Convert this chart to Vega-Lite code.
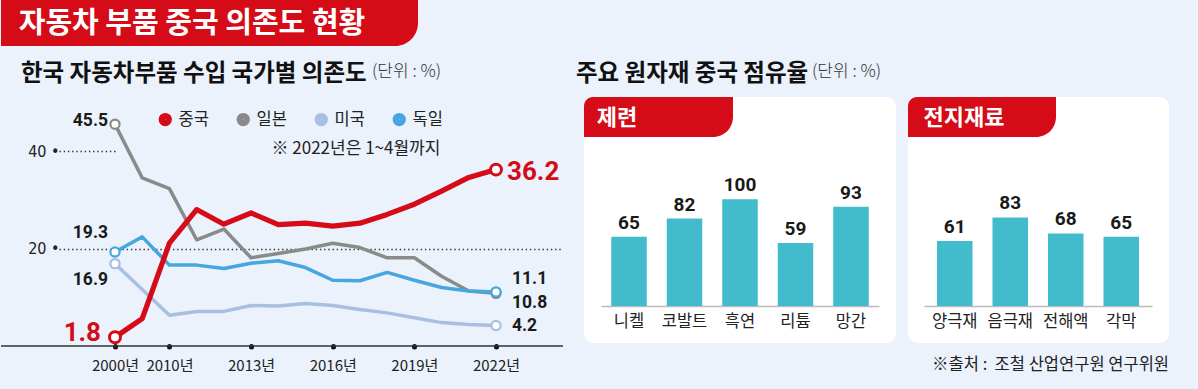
{
"$schema": "https://vega.github.io/schema/vega-lite/v6.json",
"background": "#EBF2FB",
"padding": {"left": 0, "top": 0, "right": 30, "bottom": 16},
"config": {"view": {"stroke": null}, "font": "Noto Sans CJK KR", "title": {"font": "Noto Sans CJK KR"}},
"bounds": "flush",
"spacing": 51,
"vconcat": [
{
 "width": 417, "height": 46,
 "title": {"text": "(단위 : %)", "orient": "bottom", "anchor": "start", "frame": "group", "dx": 371, "offset": 26, "baseline": "middle", "fontSize": 17, "fontWeight": 300, "color": "#333333"},
 "data": {"values": [{"t": "자동차 부품 중국 의존도 현황"}]},
 "layer": [
  {"mark": {"type": "rect", "color": "#D50B18", "cornerRadiusBottomRight": 40}, "encoding": {}},
  {"mark": {"type": "text", "color": "white", "fontSize": 29, "fontWeight": "bold", "dx": -17.5, "dy": 1}, "encoding": {"text": {"field": "t"}}}
 ]
},
{
 "bounds": "flush",
 "spacing": 21,
 "hconcat": [
 {
  "width": 562, "height": 249,
  "title": {"text": "한국 자동차부품 수입 국가별 의존도", "anchor": "start", "frame": "group", "dx": 20, "offset": 0, "baseline": "middle", "fontSize": 23.5, "fontWeight": "bold", "color": "#111111"},
  "layer": [
   {"data": {"values": [{}]}, "mark": {"type": "rule", "color": "#333333", "strokeWidth": 1.5}, "encoding": {"y": {"datum": 0, "type": "quantitative"}}},
   {
    "data": {"values": [
     {"country": "미국", "year": "2000", "value": 16.9}, {"country": "미국", "year": "2005", "value": 11.6}, {"country": "미국", "year": "2010", "value": 6.3}, {"country": "미국", "year": "2011", "value": 7.1}, {"country": "미국", "year": "2012", "value": 7.1}, {"country": "미국", "year": "2013", "value": 8.3}, {"country": "미국", "year": "2014", "value": 8.2}, {"country": "미국", "year": "2015", "value": 8.7}, {"country": "미국", "year": "2016", "value": 8.3}, {"country": "미국", "year": "2017", "value": 7.5}, {"country": "미국", "year": "2018", "value": 6.8}, {"country": "미국", "year": "2019", "value": 5.8}, {"country": "미국", "year": "2020", "value": 4.8}, {"country": "미국", "year": "2021", "value": 4.4}, {"country": "미국", "year": "2022", "value": 4.2},
     {"country": "일본", "year": "2000", "value": 45.5}, {"country": "일본", "year": "2005", "value": 34.5}, {"country": "일본", "year": "2010", "value": 32.3}, {"country": "일본", "year": "2011", "value": 21.8}, {"country": "일본", "year": "2012", "value": 24.0}, {"country": "일본", "year": "2013", "value": 18.1}, {"country": "일본", "year": "2014", "value": 19.0}, {"country": "일본", "year": "2015", "value": 19.9}, {"country": "일본", "year": "2016", "value": 21.1}, {"country": "일본", "year": "2017", "value": 20.2}, {"country": "일본", "year": "2018", "value": 18.1}, {"country": "일본", "year": "2019", "value": 18.1}, {"country": "일본", "year": "2020", "value": 14.3}, {"country": "일본", "year": "2021", "value": 11.3}, {"country": "일본", "year": "2022", "value": 10.8},
     {"country": "독일", "year": "2000", "value": 19.3}, {"country": "독일", "year": "2005", "value": 22.4}, {"country": "독일", "year": "2010", "value": 16.6}, {"country": "독일", "year": "2011", "value": 16.6}, {"country": "독일", "year": "2012", "value": 15.9}, {"country": "독일", "year": "2013", "value": 17.0}, {"country": "독일", "year": "2014", "value": 17.5}, {"country": "독일", "year": "2015", "value": 16.1}, {"country": "독일", "year": "2016", "value": 13.5}, {"country": "독일", "year": "2017", "value": 13.4}, {"country": "독일", "year": "2018", "value": 15.1}, {"country": "독일", "year": "2019", "value": 13.5}, {"country": "독일", "year": "2020", "value": 12.0}, {"country": "독일", "year": "2021", "value": 11.3}, {"country": "독일", "year": "2022", "value": 11.1},
     {"country": "중국", "year": "2000", "value": 1.8}, {"country": "중국", "year": "2005", "value": 5.6}, {"country": "중국", "year": "2010", "value": 21.1}, {"country": "중국", "year": "2011", "value": 28.0}, {"country": "중국", "year": "2012", "value": 25.0}, {"country": "중국", "year": "2013", "value": 27.3}, {"country": "중국", "year": "2014", "value": 24.9}, {"country": "중국", "year": "2015", "value": 25.2}, {"country": "중국", "year": "2016", "value": 24.6}, {"country": "중국", "year": "2017", "value": 25.2}, {"country": "중국", "year": "2018", "value": 27.0}, {"country": "중국", "year": "2019", "value": 29.1}, {"country": "중국", "year": "2020", "value": 31.8}, {"country": "중국", "year": "2021", "value": 34.6}, {"country": "중국", "year": "2022", "value": 36.2}
    ]},
    "encoding": {
     "x": {"field": "year", "type": "ordinal",
      "scale": {"type": "point", "domain": ["2000","2005","2010","2011","2012","2013","2014","2015","2016","2017","2018","2019","2020","2021","2022"], "range": [114, 495], "padding": 0},
      "axis": {"values": ["2000","2010","2013","2016","2019","2022"], "labelExpr": "datum.label + '년'", "title": null, "grid": false, "domain": false, "tickColor": "#111111", "tickWidth": 5, "tickSize": 0.5, "tickCap": "round", "labelPadding": 12, "labelAngle": 0, "labelFont": "Noto Sans CJK KR", "labelFontSize": 15, "labelColor": "#222222"}},
     "y": {"field": "value", "type": "quantitative",
      "scale": {"domain": [0, 51.1], "nice": false},
      "axis": {"orient": "left", "offset": -58, "values": [20, 40], "title": null, "domain": false, "grid": false,
       "tickColor": "#333333", "tickWidth": 1.4, "tickDash": [1.4, 2.8],
       "tickSize": {"condition": {"test": "datum.value === 40", "value": -56}, "value": -504},
       "labelPadding": {"condition": {"test": "datum.value === 40", "value": 56}, "value": 504},
       "labelExpr": "datum.label + '  •'", "labelFont": "DejaVu Sans Condensed, sans-serif", "labelFontSize": 16, "labelColor": "#222222"}},
     "color": {"field": "country", "type": "nominal",
      "scale": {"domain": ["중국", "일본", "미국", "독일"], "range": ["#D50B18", "#8A8A8A", "#A8BFE3", "#45A6E0"]},
      "legend": {"orient": "none", "legendX": 156, "legendY": 111, "direction": "horizontal", "title": null, "symbolType": "circle", "symbolSize": 40, "symbolStrokeWidth": 7, "symbolOpacity": 1, "labelFont": "Noto Sans CJK KR", "labelFontSize": 16.5, "labelColor": "#222222", "labelOffset": 5, "columnPadding": 17, "padding": 0}}
    },
    "layer": [
     {"transform": [{"filter": "datum.country === '미국'"}], "mark": {"type": "line", "strokeWidth": 3.5, "strokeJoin": "round", "strokeCap": "round"}},
     {"transform": [{"filter": "datum.country === '일본'"}], "mark": {"type": "line", "strokeWidth": 3.5, "strokeJoin": "round", "strokeCap": "round"}},
     {"transform": [{"filter": "datum.country === '독일'"}], "mark": {"type": "line", "strokeWidth": 3.5, "strokeJoin": "round", "strokeCap": "round"}},
     {"transform": [{"filter": "datum.country === '중국'"}], "mark": {"type": "line", "strokeWidth": 5.2, "strokeJoin": "round", "strokeCap": "round"}},
     {"transform": [{"filter": "(datum.year === '2000' || datum.year === '2022') && datum.country !== '중국'"}], "mark": {"type": "point", "filled": false, "fill": "white", "fillOpacity": 1, "size": 85, "strokeWidth": 2.2, "opacity": 1}},
     {"transform": [{"filter": "(datum.year === '2000' || datum.year === '2022') && datum.country === '중국'"}], "mark": {"type": "point", "filled": false, "fill": "white", "fillOpacity": 1, "size": 120, "strokeWidth": 3, "opacity": 1}},
     {"transform": [{"filter": "datum.country === '일본' && datum.year === '2000'"}], "mark": {"type": "text", "align": "right", "baseline": "middle", "dx": -7, "dy": -3, "fontSize": 17.5, "fontWeight": "bold", "font": "Roboto"}, "encoding": {"text": {"field": "value", "type": "quantitative", "format": ".1f"}, "color": {"value": "#1A1A1A"}}},
     {"transform": [{"filter": "datum.country === '독일' && datum.year === '2000'"}], "mark": {"type": "text", "align": "right", "baseline": "middle", "dx": -7, "dy": -19, "fontSize": 17.5, "fontWeight": "bold", "font": "Roboto"}, "encoding": {"text": {"field": "value", "type": "quantitative", "format": ".1f"}, "color": {"value": "#1A1A1A"}}},
     {"transform": [{"filter": "datum.country === '미국' && datum.year === '2000'"}], "mark": {"type": "text", "align": "right", "baseline": "middle", "dx": -7, "dy": 16, "fontSize": 17.5, "fontWeight": "bold", "font": "Roboto"}, "encoding": {"text": {"field": "value", "type": "quantitative", "format": ".1f"}, "color": {"value": "#1A1A1A"}}},
     {"transform": [{"filter": "datum.country === '중국' && datum.year === '2000'"}], "mark": {"type": "text", "align": "right", "baseline": "middle", "dx": -14, "dy": -4, "fontSize": 26, "fontWeight": "bold", "font": "Roboto"}, "encoding": {"text": {"field": "value", "type": "quantitative", "format": ".1f"}, "color": {"value": "#D50B18"}}},
     {"transform": [{"filter": "datum.country === '중국' && datum.year === '2022'"}], "mark": {"type": "text", "align": "left", "baseline": "middle", "dx": 11, "dy": 2, "fontSize": 26, "fontWeight": "bold", "font": "Roboto"}, "encoding": {"text": {"field": "value", "type": "quantitative", "format": ".1f"}, "color": {"value": "#D50B18"}}},
     {"transform": [{"filter": "datum.country === '독일' && datum.year === '2022'"}], "mark": {"type": "text", "align": "left", "baseline": "middle", "dx": 16, "dy": -13, "fontSize": 17.5, "fontWeight": "bold", "font": "Roboto"}, "encoding": {"text": {"field": "value", "type": "quantitative", "format": ".1f"}, "color": {"value": "#1A1A1A"}}},
     {"transform": [{"filter": "datum.country === '일본' && datum.year === '2022'"}], "mark": {"type": "text", "align": "left", "baseline": "middle", "dx": 16, "dy": 10, "fontSize": 17.5, "fontWeight": "bold", "font": "Roboto"}, "encoding": {"text": {"field": "value", "type": "quantitative", "format": ".1f"}, "color": {"value": "#1A1A1A"}}},
     {"transform": [{"filter": "datum.country === '미국' && datum.year === '2022'"}], "mark": {"type": "text", "align": "left", "baseline": "middle", "dx": 16, "dy": 0, "fontSize": 17.5, "fontWeight": "bold", "font": "Roboto"}, "encoding": {"text": {"field": "value", "type": "quantitative", "format": ".1f"}, "color": {"value": "#1A1A1A"}}}
    ]
   },
   {"data": {"values": [{"note": "※ 2022년은 1~4월까지"}]}, "mark": {"type": "text", "align": "center", "baseline": "middle", "dx": -4, "fontSize": 17, "font": "Noto Sans CJK KR", "color": "#222222"}, "encoding": {"x": {"datum": "2017", "type": "ordinal"}, "y": {"datum": 40.5, "type": "quantitative"}, "text": {"field": "note"}}}
  ]
 },
 {
  "bounds": "flush",
  "spacing": 324,
  "hconcat": [
   {
    "bounds": "flush",
    "spacing": 0,
    "vconcat": [
     {"bounds": "flush", "vconcat": [
     {
      "width": 312, "height": 246,
      "view": {"fill": "white", "cornerRadius": 10, "stroke": null},
      "title": {"text": "(단위 : %)", "anchor": "start", "frame": "group", "dx": 228, "offset": 8, "baseline": "middle", "fontSize": 17, "fontWeight": 300, "color": "#333333"},
      "data": {"values": [{"item": "니켈", "value": 65}, {"item": "코발트", "value": 82}, {"item": "흑연", "value": 100}, {"item": "리튬", "value": 59}, {"item": "망간", "value": 93}]},
      "encoding": {
       "x": {"field": "item", "type": "nominal", "sort": null, "scale": {"type": "band", "range": [17, 295], "paddingInner": 0.36, "paddingOuter": 0.185},
        "axis": {"orient": "bottom", "offset": -37, "title": null, "ticks": false, "domainColor": "#BBBBBB", "domainWidth": 1.5, "labelAngle": 0, "labelPadding": 7, "labelFontSize": 16.5, "labelFont": "Noto Sans CJK KR", "labelColor": "#222222"}},
       "y": {"field": "value", "type": "quantitative", "scale": {"domain": [-34.7, 195.9], "nice": false, "zero": false}, "axis": null}
      },
      "layer": [
       {"mark": {"type": "bar", "color": "#42BBCC"}, "encoding": {"y2": {"datum": 0}}},
       {"mark": {"type": "text", "dy": -8, "baseline": "alphabetic", "align": "center", "fontSize": 19, "fontWeight": "bold", "font": "Roboto", "color": "#1A1A1A"}, "encoding": {"text": {"field": "value", "type": "quantitative"}}}
      ]
     }
     ]},
     {
      "width": 149, "height": 40,
      "title": {"text": "주요 원자재 중국 점유율", "anchor": "start", "frame": "group", "dx": -8, "offset": 0, "baseline": "middle", "fontSize": 23.5, "fontWeight": "bold", "color": "#111111"},
      "data": {"values": [{"label": "제련"}]},
      "layer": [
       {"mark": {"type": "rect", "color": "#D50B18", "cornerRadiusTopLeft": 9, "cornerRadiusBottomRight": 38}, "encoding": {}},
       {"mark": {"type": "text", "color": "white", "fontSize": 22, "fontWeight": "bold", "dx": -41.5, "dy": 1}, "encoding": {"text": {"field": "label"}}}
      ]
     }
    ]
   },
   {
    "bounds": "flush",
    "spacing": 0,
    "vconcat": [
     {"bounds": "flush", "vconcat": [
     {
      "width": 261, "height": 246,
      "view": {"fill": "white", "cornerRadius": 10, "stroke": null},
      "title": {"text": "※출처 :\u00a0 조철 산업연구원 연구위원", "orient": "bottom", "anchor": "end", "frame": "group", "offset": 22, "baseline": "middle", "fontSize": 16.5, "fontWeight": "normal", "color": "#222222"},
      "data": {"values": [{"item": "양극재", "value": 61}, {"item": "음극재", "value": 83}, {"item": "전해액", "value": 68}, {"item": "각막", "value": 65}]},
      "encoding": {
       "x": {"field": "item", "type": "nominal", "sort": null, "scale": {"type": "band", "range": [16, 244], "paddingInner": 0.36, "paddingOuter": 0.234},
        "axis": {"orient": "bottom", "offset": -37, "title": null, "ticks": false, "domainColor": "#BBBBBB", "domainWidth": 1.5, "labelAngle": 0, "labelPadding": 7, "labelFontSize": 16.5, "labelFont": "Noto Sans CJK KR", "labelColor": "#222222"}},
       "y": {"field": "value", "type": "quantitative", "scale": {"domain": [-34.7, 195.9], "nice": false, "zero": false}, "axis": null}
      },
      "layer": [
       {"mark": {"type": "bar", "color": "#42BBCC"}, "encoding": {"y2": {"datum": 0}}},
       {"mark": {"type": "text", "dy": -8, "baseline": "alphabetic", "align": "center", "fontSize": 19, "fontWeight": "bold", "font": "Roboto", "color": "#1A1A1A"}, "encoding": {"text": {"field": "value", "type": "quantitative"}}}
      ]
     }
     ]},
     {
      "width": 148, "height": 40,
      "data": {"values": [{"label": "전지재료"}]},
      "layer": [
       {"mark": {"type": "rect", "color": "#D50B18", "cornerRadiusTopLeft": 9, "cornerRadiusBottomRight": 38}, "encoding": {}},
       {"mark": {"type": "text", "color": "white", "fontSize": 22, "fontWeight": "bold", "dx": -18, "dy": 1}, "encoding": {"text": {"field": "label"}}}
      ]
     }
    ]
   }
  ]
 }
 ]
}
]
}
